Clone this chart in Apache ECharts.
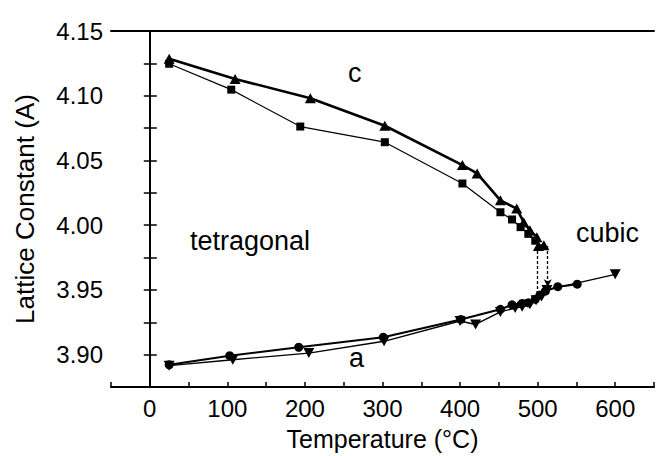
<!DOCTYPE html>
<html><head><meta charset="utf-8">
<script src="https://cdn.jsdelivr.net/npm/echarts@6/dist/echarts.min.js"></script>
<style>html,body{margin:0;padding:0;background:#fff}#c{width:657px;height:456px}</style>
</head><body><div id="c"></div>
<script>
// c-axis, triangles
const cTriT = [25,110,207,303,403,422,452,473,482,490,499,501,508];
const cTriV = [4.1286,4.113,4.098,4.0768,4.0464,4.040,4.0192,4.0128,4.0023,3.996,3.9907,3.984,3.9845];
// c-axis, squares
const cSqT = [25,105,194,303,403,452,467,478,488,497];
const cSqV = [4.1247,4.1047,4.0762,4.0641,4.0322,4.010,4.0044,3.9985,3.9933,3.988];
// a-axis, circles
const aCircT = [25,103,192,301,401,452,467,480,488,497,503,510,526,551];
const aCircV = [3.8922,3.8992,3.9057,3.9135,3.9272,3.935,3.9385,3.9395,3.940,3.9428,3.946,3.949,3.9525,3.9544];
// a-axis, down triangles
const aTriT = [25,107,205,302,400,420,452,471,480,490,498,505,512,600];
const aTriV = [3.8915,3.8961,3.9012,3.9103,3.926,3.9233,3.933,3.936,3.937,3.939,3.942,3.945,3.950,3.962];
// transition (dotted) lines: temperature, top value, bottom value
const transT = [499,513];
const transTop = [3.984,3.984];
const transBot = [3.9415,3.952];
// tick labels
const xTickLabels = [0,100,200,300,400,500,600];
const yTickLabels = ['3.90','3.95','4.00','4.05','4.10','4.15'];

const zip = (a,b) => a.map((v,i)=>[v,b[i]]);
const FONT = 'Liberation Sans, Arial, Helvetica, sans-serif';
const chart = echarts.init(document.getElementById('c'), null, {renderer:'svg'});

const xFmt = v => xTickLabels.indexOf(Math.round(v))>=0 ? String(Math.round(v)) : '';
const yFmt = v => yTickLabels.indexOf(v.toFixed(2))>=0 && Math.round(v*1000)%50===0 ? v.toFixed(2) : '';

chart.setOption({
  animation:false,
  backgroundColor:'#fff',
  grid:{left:111, top:31, right:-3, bottom:69},
  xAxis:[{
    type:'value', min:-50, max:650, interval:50,
    axisLine:{lineStyle:{color:'#000', width:2}},
    axisTick:{inside:true, length:5, lineStyle:{color:'#000', width:1.5}},
    axisLabel:{formatter:xFmt, color:'#000', fontSize:24, fontFamily:FONT, margin:9},
    splitLine:{show:false},
    name:'Temperature (°C)', nameLocation:'middle', nameGap:39,
    nameTextStyle:{color:'#000', fontSize:25, fontFamily:FONT}
  },{
    type:'value', position:'top', min:-50, max:650, interval:50,
    axisLine:{show:true, lineStyle:{color:'#000', width:2}},
    axisTick:{show:false}, axisLabel:{show:false}, splitLine:{show:false}
  }],
  yAxis:[{
    type:'value', min:3.875, max:4.15, interval:0.025,
    axisLine:{show:true, lineStyle:{color:'#000', width:2}},
    axisTick:{show:true, inside:true, length:7, lineStyle:{color:'#000', width:1.5}},
    axisLabel:{formatter:yFmt, color:'#000', fontSize:24, fontFamily:FONT, margin:8},
    splitLine:{show:false},
    name:'Lattice Constant (A)', nameLocation:'middle', nameGap:73,
    nameTextStyle:{color:'#000', fontSize:26, fontFamily:FONT}
  },{
    type:'value', position:'right', min:3.875, max:4.15, interval:0.025,
    axisLine:{show:true, lineStyle:{color:'#000', width:2}},
    axisTick:{show:true, inside:true, length:6, lineStyle:{color:'#000', width:1.5}},
    axisLabel:{show:false}, splitLine:{show:false}
  }],
  series:[
    {type:'line', data:zip(cSqT,cSqV), symbol:'rect', symbolSize:8,
     itemStyle:{color:'#000'}, lineStyle:{color:'#000', width:1.2}},
    {type:'line', data:zip(cTriT,cTriV), symbol:'triangle', symbolSize:[11,10],
     itemStyle:{color:'#000'}, lineStyle:{color:'#000', width:2.6}},
    {type:'line', data:zip(aTriT,aTriV), symbol:'triangle', symbolRotate:180, symbolSize:[11,10],
     itemStyle:{color:'#000'}, lineStyle:{color:'#000', width:1.4}},
    {type:'line', data:zip(aCircT,aCircV), symbol:'circle', symbolSize:9,
     itemStyle:{color:'#000'}, lineStyle:{color:'#000', width:2}},
    {type:'line', data:[], silent:true,
     markLine:{silent:true, animation:false, label:{show:false},
       lineStyle:{color:'#000', type:[3,2], width:1.3},
       symbol:['none','none'],
       data:[
         [{coord:[transT[0],transTop[0]], symbol:'none'},{coord:[transT[0],transBot[0]], symbol:'none'}],
         [{coord:[transT[1],transTop[1]], symbol:'none'},{coord:[transT[1],transBot[1]], symbol:'arrow', symbolSize:[6,8]}]
       ]}}
  ],
  graphic:[
    {type:'text', left:348, top:59, style:{text:'c', font:'27px '+FONT, fill:'#000'}},
    {type:'text', left:349, top:344, style:{text:'a', font:'27px '+FONT, fill:'#000'}},
    {type:'text', left:190, top:227, style:{text:'tetragonal', font:'27px '+FONT, fill:'#000'}},
    {type:'text', left:576, top:219, style:{text:'cubic', font:'27px '+FONT, fill:'#000'}}
  ]
});
</script></body></html>
